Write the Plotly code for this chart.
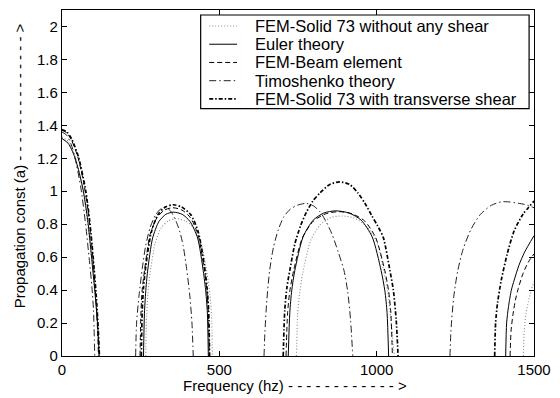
import plotly.graph_objects as go

# Propagation constant vs frequency for a periodic beam, five models.
# Each pass band is a separate segment; None breaks the line between bands.

freq_solid_noshear = [0, 20, 40, 60, 75, 88, 98, 106, 113, 117, None,
                      266, 269, 273, 279, 296, 316, 338, 362, 391, 418, 442, 462, 470, 475, 478, None,
                      745, 749, 755, 765, 790, 820, 854, 890, 925, 960, 990, 1008, 1021, 1036, 1045, 1056, None,
                      1466, 1469, 1474, 1482, 1491, 1500]
prop_solid_noshear = [1.33, 1.30, 1.22, 1.07, 0.90, 0.70, 0.52, 0.36, 0.18, 0, None,
                      0, 0.25, 0.375, 0.49, 0.684, 0.78, 0.82, 0.834, 0.82, 0.78, 0.684, 0.49, 0.375, 0.25, 0, None,
                      0, 0.255, 0.38, 0.50, 0.70, 0.795, 0.84, 0.85, 0.84, 0.80, 0.73, 0.65, 0.53, 0.38, 0.22, 0, None,
                      0, 0.15, 0.25, 0.33, 0.40, 0.45]

freq_euler = [0, 20, 40, 55, 68, 82, 94, 101, 106, 114, 118, None,
              259, 262, 266, 272, 288, 308, 330, 354, 382, 407, 431, 449, 457, 462, 465, None,
              719, 724, 730, 740, 766, 798, 832, 870, 912, 951, 986, 1014, 1026, 1033, 1038, None,
              1410, 1413, 1419, 1428, 1437, 1452, 1470, 1500]
prop_euler = [1.32, 1.29, 1.21, 1.11, 1.0, 0.82, 0.60, 0.46, 0.36, 0.17, 0, None,
              0, 0.26, 0.39, 0.515, 0.716, 0.816, 0.86, 0.873, 0.86, 0.816, 0.716, 0.515, 0.39, 0.26, 0, None,
              0, 0.264, 0.396, 0.52, 0.722, 0.824, 0.868, 0.881, 0.868, 0.824, 0.722, 0.52, 0.396, 0.264, 0, None,
              0, 0.2, 0.3, 0.4, 0.46, 0.55, 0.63, 0.73]

freq_beam = [0, 15, 30, 50, 70, 85, 97, 106, 112, 116, None,
             248, 251, 255, 263, 280, 302, 326, 352, 381, 408, 432, 452, 460, 465, 468, None,
             712, 717, 724, 736, 764, 799, 838, 880, 922, 962, 997, 1026, 1038, 1045, 1050, None,
             1424, 1427, 1433, 1441, 1450, 1465, 1482, 1500]
prop_beam = [1.37, 1.355, 1.31, 1.21, 1.04, 0.85, 0.62, 0.40, 0.2, 0, None,
             0, 0.27, 0.405, 0.53, 0.738, 0.84, 0.886, 0.9, 0.886, 0.84, 0.738, 0.53, 0.405, 0.27, 0, None,
             0, 0.263, 0.394, 0.517, 0.718, 0.819, 0.863, 0.876, 0.863, 0.819, 0.718, 0.517, 0.394, 0.263, 0, None,
             0, 0.15, 0.25, 0.34, 0.41, 0.5, 0.57, 0.62]

freq_timo = [0, 15, 30, 45, 60, 75, 87, 95, 100, 104, None,
             234, 237, 245, 255, 266, 280, 297, 312, 328, 345, 362, 375, 385, 396, 406, 413, 417, None,
             642, 645, 651, 660, 672, 688, 705, 725, 748, 776, 800, 820, 838, 858, 878, 896, 908, 917, 924, None,
             1233, 1236, 1245, 1258, 1275, 1300, 1330, 1365, 1395, 1416, 1440, 1470, 1500]
prop_timo = [1.36, 1.34, 1.28, 1.17, 1.02, 0.80, 0.58, 0.42, 0.28, 0, None,
             0, 0.2, 0.37, 0.53, 0.67, 0.78, 0.855, 0.89, 0.9, 0.88, 0.82, 0.75, 0.67, 0.53, 0.37, 0.2, 0, None,
             0, 0.15, 0.34, 0.52, 0.66, 0.77, 0.845, 0.89, 0.915, 0.926, 0.91, 0.875, 0.82, 0.74, 0.63, 0.52, 0.39, 0.22, 0, None,
             0, 0.15, 0.36, 0.52, 0.65, 0.77, 0.86, 0.915, 0.935, 0.936, 0.93, 0.92, 0.9]

freq_solid_shear = [0, 15, 30, 52, 75, 88, 99, 109, 115, 119, None,
                    252, 255, 259, 266, 284, 305, 328, 354, 380, 409, 433, 453, 461, 466, 469, None,
                    703, 708, 715, 724, 740, 758, 776, 797, 820, 850, 882, 915, 940, 963, 985, 1003, 1021, 1042, 1053, 1062, 1068, None,
                    1375, 1378, 1384, 1396, 1415, 1437, 1465, 1500]
prop_solid_shear = [1.375, 1.36, 1.32, 1.21, 1.007, 0.82, 0.60, 0.36, 0.17, 0, None,
                    0, 0.275, 0.413, 0.542, 0.753, 0.858, 0.904, 0.918, 0.904, 0.858, 0.753, 0.542, 0.413, 0.275, 0, None,
                    0, 0.28, 0.42, 0.52, 0.68, 0.79, 0.87, 0.94, 0.99, 1.04, 1.057, 1.04, 0.99, 0.926, 0.85, 0.79, 0.72, 0.52, 0.40, 0.22, 0, None,
                    0, 0.2, 0.32, 0.46, 0.62, 0.76, 0.86, 0.94]

x_ticks = [0, 500, 1000, 1500]
y_ticks = [0, 0.2, 0.4, 0.6, 0.8, 1, 1.2, 1.4, 1.6, 1.8, 2]
y_tick_labels = ["0", "0.2", "0.4", "0.6", "0.8", "1", "1.2", "1.4", "1.6", "1.8", "2"]

FONT = "Liberation Sans, Arial, sans-serif"

series = [
    ("FEM-Solid 73 without any shear", freq_solid_noshear, prop_solid_noshear,
     dict(color="#8a8a8a", width=1.1, dash="1px,2px")),
    ("Euler theory", freq_euler, prop_euler,
     dict(color="black", width=1)),
    ("FEM-Beam element", freq_beam, prop_beam,
     dict(color="black", width=1, dash="5px,3px")),
    ("Timoshenko theory", freq_timo, prop_timo,
     dict(color="#222222", width=1, dash="7px,3px,1.5px,3px")),
    ("FEM-Solid 73 with transverse shear", freq_solid_shear, prop_solid_shear,
     dict(color="black", width=1.7, dash="4px,2px,1.5px,2px")),
]

fig = go.Figure()
for name, fx, fy, line in series:
    fig.add_trace(go.Scatter(
        x=fx, y=fy, name=name, mode="lines",
        line=dict(shape="spline", smoothing=0.7, **line),
        connectgaps=False, showlegend=False,
    ))

axis_common = dict(
    showgrid=False, zeroline=False, showline=True, linecolor="black", linewidth=1.3,
    mirror="ticks", ticks="inside", ticklen=5, tickcolor="black", tickwidth=1,
    tickfont=dict(family=FONT, size=15, color="black"),
)

fig.update_xaxes(range=[0, 1500], tickvals=x_ticks, **axis_common)
fig.update_yaxes(range=[0, 2.1], tickvals=y_ticks, ticktext=y_tick_labels, **axis_common)

# Boxed legend in the upper right corner of the plot area (paper coordinates)
leg_box = dict(x0=0.2938, x1=0.9896, y0=0.7147, y1=0.9856)
key_x0, key_x1, label_x = 0.3119, 0.3708, 0.4056
row_y = [0.9539, 0.9011, 0.8484, 0.7957, 0.7429]

shapes = [dict(type="rect", xref="paper", yref="paper", **leg_box,
               line=dict(color="black", width=1.2), fillcolor="white", layer="above")]
annotations = []
for (name, _, _, line), ry in zip(series, row_y):
    shapes.append(dict(type="line", xref="paper", yref="paper",
                       x0=key_x0, x1=key_x1, y0=ry, y1=ry, line=line, layer="above"))
    annotations.append(dict(text=name, xref="paper", yref="paper", x=label_x, y=ry,
                            xanchor="left", yanchor="middle", showarrow=False,
                            font=dict(family=FONT, size=16.5, color="black")))

annotations += [
    dict(text="Frequency (hz) " + "- " * 12 + ">", xref="paper", yref="paper",
         x=0.4927, y=-0.0865, xanchor="center", yanchor="middle", showarrow=False,
         font=dict(family=FONT, size=15, color="black")),
    dict(text="Propagation const (a) " + "- " * 14 + ">", xref="paper", yref="paper",
         x=-0.0896, y=0.5504, xanchor="center", yanchor="middle", textangle=-90,
         showarrow=False, font=dict(family=FONT, size=15, color="black")),
]

fig.update_layout(
    width=560, height=398,
    margin=dict(l=62, r=18, t=9, b=42),
    paper_bgcolor="white", plot_bgcolor="white",
    font=dict(family=FONT, size=15, color="black"),
    showlegend=False,
    shapes=shapes,
    annotations=annotations,
)

fig.write_html("out.html")
